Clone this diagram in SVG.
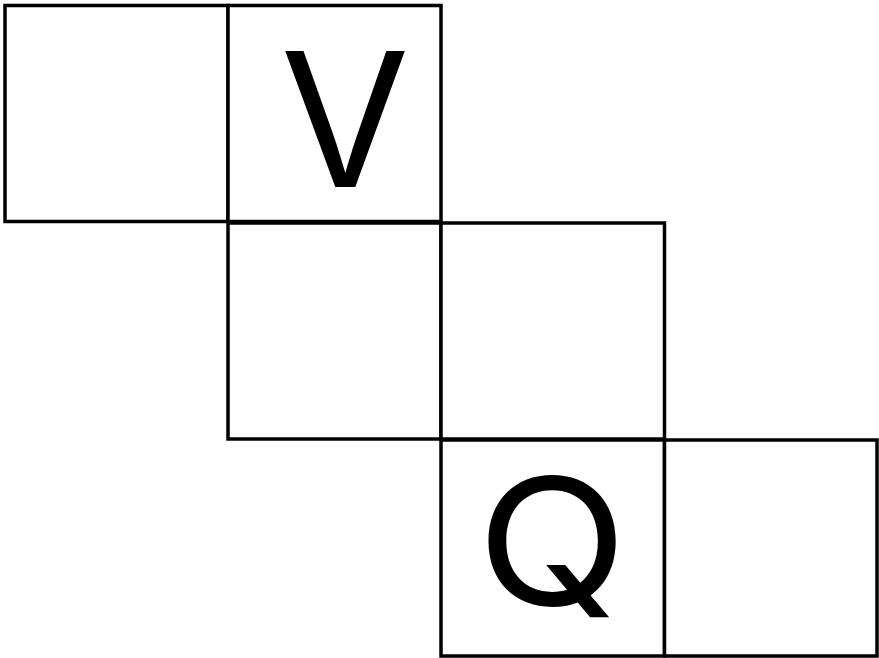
<svg xmlns="http://www.w3.org/2000/svg" width="879" height="658" viewBox="0 0 879 658">
<style>
.box{fill:#fff;stroke:#000;stroke-width:3.5}
.lbl{font-family:Inter,"Liberation Sans",sans-serif;fill:#000;text-anchor:middle}
</style>
<rect width="879" height="658" fill="#fff"/>
<g id="n1"><rect class="box" x="5" y="5.5" width="223" height="216"/></g>
<g id="n2"><rect class="box" x="228" y="5.5" width="213" height="216"/><text class="lbl" x="345" y="187" font-size="187">V</text></g>
<g id="n3"><rect class="box" x="228" y="223" width="213" height="216"/></g>
<g id="n4"><rect class="box" x="441" y="223" width="223.5" height="216"/></g>
<g id="n5"><rect class="box" x="441" y="440" width="223.5" height="216"/><text class="lbl" transform="translate(552,605) scale(1.12,1)" x="0" y="0" font-size="176">Q</text></g>
<g id="n6"><rect class="box" x="664.5" y="440" width="212.5" height="216"/></g>
<g id="connectors"/>
</svg>
